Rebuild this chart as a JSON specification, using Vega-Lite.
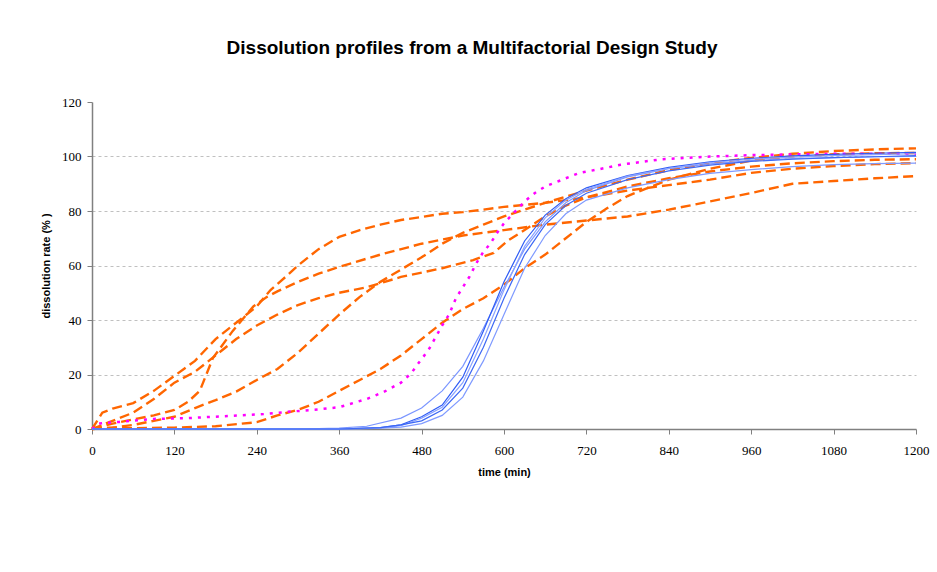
{
  "$schema": "https://vega.github.io/schema/vega-lite/v6.json",
  "width": 824,
  "height": 327,
  "autosize": "none",
  "padding": {"left": 92, "top": 102, "right": 21, "bottom": 143},
  "background": "white",
  "title": {"text": "Dissolution profiles from a Multifactorial Design Study", "font": "Liberation Sans", "fontSize": 19, "fontWeight": "bold", "color": "black", "anchor": "middle", "dx": -32, "offset": 38},
  "datasets": {
    "orange": [
      {"series":"O1","time":0,"rate":0},{"series":"O1","time":15,"rate":6},{"series":"O1","time":30,"rate":7.5},{"series":"O1","time":60,"rate":9.5},{"series":"O1","time":90,"rate":14},{"series":"O1","time":120,"rate":19.5},{"series":"O1","time":150,"rate":25},{"series":"O1","time":180,"rate":33},{"series":"O1","time":210,"rate":39},{"series":"O1","time":240,"rate":45},{"series":"O1","time":260,"rate":51},{"series":"O1","time":285,"rate":56.5},{"series":"O1","time":300,"rate":60},{"series":"O1","time":330,"rate":66},{"series":"O1","time":360,"rate":70.5},{"series":"O1","time":390,"rate":73},{"series":"O1","time":420,"rate":75},{"series":"O1","time":450,"rate":76.7},{"series":"O1","time":480,"rate":77.8},{"series":"O1","time":510,"rate":79},{"series":"O1","time":540,"rate":79.6},{"series":"O1","time":570,"rate":80.5},{"series":"O1","time":600,"rate":81.5},{"series":"O1","time":660,"rate":83},{"series":"O1","time":720,"rate":85},{"series":"O1","time":780,"rate":87.5},{"series":"O1","time":840,"rate":89.5},{"series":"O1","time":900,"rate":91.5},{"series":"O1","time":960,"rate":94},{"series":"O1","time":1020,"rate":95.5},{"series":"O1","time":1080,"rate":96.5},{"series":"O1","time":1140,"rate":97.2},{"series":"O1","time":1200,"rate":97.6},
      {"series":"O2","time":0,"rate":0},{"series":"O2","time":30,"rate":2},{"series":"O2","time":60,"rate":3.5},{"series":"O2","time":90,"rate":5},{"series":"O2","time":120,"rate":7},{"series":"O2","time":140,"rate":10},{"series":"O2","time":157,"rate":14},{"series":"O2","time":176,"rate":26},{"series":"O2","time":205,"rate":36},{"series":"O2","time":235,"rate":45},{"series":"O2","time":255,"rate":48.5},{"series":"O2","time":270,"rate":50.5},{"series":"O2","time":300,"rate":54},{"series":"O2","time":330,"rate":57},{"series":"O2","time":360,"rate":59.5},{"series":"O2","time":420,"rate":64},{"series":"O2","time":480,"rate":68},{"series":"O2","time":540,"rate":71},{"series":"O2","time":600,"rate":73},{"series":"O2","time":660,"rate":75},{"series":"O2","time":720,"rate":76.5},{"series":"O2","time":780,"rate":78},{"series":"O2","time":840,"rate":80.5},{"series":"O2","time":900,"rate":83.5},{"series":"O2","time":960,"rate":86.6},{"series":"O2","time":1020,"rate":90},{"series":"O2","time":1080,"rate":91},{"series":"O2","time":1140,"rate":92},{"series":"O2","time":1200,"rate":92.8},
      {"series":"O3","time":0,"rate":0},{"series":"O3","time":30,"rate":3},{"series":"O3","time":60,"rate":6},{"series":"O3","time":90,"rate":11},{"series":"O3","time":120,"rate":17},{"series":"O3","time":150,"rate":21},{"series":"O3","time":180,"rate":27},{"series":"O3","time":210,"rate":33},{"series":"O3","time":240,"rate":38},{"series":"O3","time":270,"rate":42},{"series":"O3","time":300,"rate":45.5},{"series":"O3","time":330,"rate":48},{"series":"O3","time":360,"rate":50},{"series":"O3","time":400,"rate":52},{"series":"O3","time":450,"rate":55.8},{"series":"O3","time":510,"rate":59},{"series":"O3","time":555,"rate":62},{"series":"O3","time":585,"rate":64.6},{"series":"O3","time":605,"rate":69},{"series":"O3","time":630,"rate":73},{"series":"O3","time":660,"rate":78},{"series":"O3","time":690,"rate":82},{"series":"O3","time":720,"rate":85},{"series":"O3","time":780,"rate":89},{"series":"O3","time":840,"rate":92},{"series":"O3","time":900,"rate":94.5},{"series":"O3","time":960,"rate":96.3},{"series":"O3","time":1020,"rate":97.5},{"series":"O3","time":1080,"rate":98.3},{"series":"O3","time":1140,"rate":98.8},{"series":"O3","time":1200,"rate":99},
      {"series":"O4","time":0,"rate":0},{"series":"O4","time":30,"rate":0.5},{"series":"O4","time":60,"rate":1.5},{"series":"O4","time":90,"rate":3},{"series":"O4","time":120,"rate":4.5},{"series":"O4","time":150,"rate":7.7},{"series":"O4","time":180,"rate":10.6},{"series":"O4","time":210,"rate":13.7},{"series":"O4","time":240,"rate":18},{"series":"O4","time":270,"rate":22},{"series":"O4","time":300,"rate":28},{"series":"O4","time":330,"rate":35},{"series":"O4","time":360,"rate":42},{"series":"O4","time":390,"rate":48.5},{"series":"O4","time":420,"rate":54},{"series":"O4","time":450,"rate":58.5},{"series":"O4","time":480,"rate":63},{"series":"O4","time":510,"rate":68},{"series":"O4","time":540,"rate":72},{"series":"O4","time":570,"rate":75},{"series":"O4","time":600,"rate":78},{"series":"O4","time":630,"rate":80.5},{"series":"O4","time":660,"rate":83},{"series":"O4","time":720,"rate":87.5},{"series":"O4","time":780,"rate":91.5},{"series":"O4","time":840,"rate":95},{"series":"O4","time":900,"rate":97.5},{"series":"O4","time":960,"rate":99.5},{"series":"O4","time":1020,"rate":101},{"series":"O4","time":1080,"rate":102},{"series":"O4","time":1140,"rate":102.6},{"series":"O4","time":1200,"rate":103},
      {"series":"O5","time":0,"rate":0},{"series":"O5","time":30,"rate":0.5},{"series":"O5","time":60,"rate":0.3},{"series":"O5","time":120,"rate":0.5},{"series":"O5","time":180,"rate":1},{"series":"O5","time":240,"rate":2.5},{"series":"O5","time":270,"rate":5},{"series":"O5","time":300,"rate":7},{"series":"O5","time":330,"rate":10},{"series":"O5","time":360,"rate":14},{"series":"O5","time":390,"rate":18},{"series":"O5","time":420,"rate":22},{"series":"O5","time":450,"rate":27},{"series":"O5","time":480,"rate":33},{"series":"O5","time":510,"rate":39},{"series":"O5","time":540,"rate":44},{"series":"O5","time":570,"rate":48},{"series":"O5","time":600,"rate":53},{"series":"O5","time":630,"rate":59},{"series":"O5","time":660,"rate":64},{"series":"O5","time":690,"rate":70},{"series":"O5","time":720,"rate":76},{"series":"O5","time":750,"rate":81},{"series":"O5","time":780,"rate":85.5},{"series":"O5","time":840,"rate":91.5},{"series":"O5","time":900,"rate":95.5},{"series":"O5","time":960,"rate":98.5},{"series":"O5","time":1020,"rate":100},{"series":"O5","time":1080,"rate":100.8},{"series":"O5","time":1140,"rate":101.2},{"series":"O5","time":1200,"rate":101.3}
    ],
    "pink": [
      {"series":"P1","time":0,"rate":0},{"series":"P1","time":10,"rate":2},{"series":"P1","time":40,"rate":2.6},{"series":"P1","time":90,"rate":3.7},{"series":"P1","time":140,"rate":4},{"series":"P1","time":200,"rate":4.8},{"series":"P1","time":250,"rate":5.5},{"series":"P1","time":290,"rate":6.4},{"series":"P1","time":330,"rate":7.2},{"series":"P1","time":360,"rate":8},{"series":"P1","time":400,"rate":11},{"series":"P1","time":425,"rate":13.6},{"series":"P1","time":450,"rate":17},{"series":"P1","time":465,"rate":20.5},{"series":"P1","time":475,"rate":24},{"series":"P1","time":490,"rate":29},{"series":"P1","time":500,"rate":33.5},{"series":"P1","time":510,"rate":38},{"series":"P1","time":520,"rate":42},{"series":"P1","time":530,"rate":48},{"series":"P1","time":540,"rate":52},{"series":"P1","time":550,"rate":56},{"series":"P1","time":560,"rate":61},{"series":"P1","time":570,"rate":65},{"series":"P1","time":580,"rate":68},{"series":"P1","time":590,"rate":72},{"series":"P1","time":600,"rate":75.5},{"series":"P1","time":615,"rate":79.5},{"series":"P1","time":630,"rate":83.5},{"series":"P1","time":645,"rate":86.6},{"series":"P1","time":660,"rate":89},{"series":"P1","time":680,"rate":91},{"series":"P1","time":710,"rate":94},{"series":"P1","time":740,"rate":95.4},{"series":"P1","time":770,"rate":97},{"series":"P1","time":800,"rate":98},{"series":"P1","time":830,"rate":99},{"series":"P1","time":900,"rate":100},{"series":"P1","time":960,"rate":100.5},{"series":"P1","time":1080,"rate":101},{"series":"P1","time":1200,"rate":101}
    ],
    "blue": [
      {"series":"B1","time":0,"rate":0},{"series":"B1","time":300,"rate":0},{"series":"B1","time":360,"rate":0.3},{"series":"B1","time":400,"rate":1},{"series":"B1","time":450,"rate":4},{"series":"B1","time":480,"rate":7.7},{"series":"B1","time":510,"rate":14},{"series":"B1","time":540,"rate":23},{"series":"B1","time":570,"rate":37},{"series":"B1","time":600,"rate":52},{"series":"B1","time":630,"rate":66},{"series":"B1","time":660,"rate":76},{"series":"B1","time":690,"rate":83},{"series":"B1","time":720,"rate":87.5},{"series":"B1","time":780,"rate":92.5},{"series":"B1","time":840,"rate":95.5},{"series":"B1","time":900,"rate":97.3},{"series":"B1","time":960,"rate":98.5},{"series":"B1","time":1020,"rate":99.2},{"series":"B1","time":1080,"rate":99.6},{"series":"B1","time":1140,"rate":99.9},{"series":"B1","time":1200,"rate":100},
      {"series":"B2","time":0,"rate":0},{"series":"B2","time":360,"rate":0},{"series":"B2","time":420,"rate":0.5},{"series":"B2","time":450,"rate":1.5},{"series":"B2","time":480,"rate":4.5},{"series":"B2","time":510,"rate":8.8},{"series":"B2","time":540,"rate":19},{"series":"B2","time":570,"rate":36},{"series":"B2","time":600,"rate":54},{"series":"B2","time":630,"rate":69},{"series":"B2","time":660,"rate":78.5},{"series":"B2","time":690,"rate":84.5},{"series":"B2","time":720,"rate":88.5},{"series":"B2","time":780,"rate":93},{"series":"B2","time":840,"rate":96},{"series":"B2","time":900,"rate":98},{"series":"B2","time":960,"rate":99.3},{"series":"B2","time":1020,"rate":100.2},{"series":"B2","time":1080,"rate":100.8},{"series":"B2","time":1140,"rate":101.2},{"series":"B2","time":1200,"rate":101.5},
      {"series":"B3","time":0,"rate":0},{"series":"B3","time":360,"rate":0},{"series":"B3","time":420,"rate":0.4},{"series":"B3","time":450,"rate":1.2},{"series":"B3","time":480,"rate":4},{"series":"B3","time":510,"rate":8},{"series":"B3","time":540,"rate":17},{"series":"B3","time":570,"rate":33},{"series":"B3","time":600,"rate":51},{"series":"B3","time":630,"rate":67},{"series":"B3","time":660,"rate":77.5},{"series":"B3","time":690,"rate":84},{"series":"B3","time":720,"rate":88},{"series":"B3","time":780,"rate":92.8},{"series":"B3","time":840,"rate":95.7},{"series":"B3","time":900,"rate":97.8},{"series":"B3","time":960,"rate":99},{"series":"B3","time":1020,"rate":99.8},{"series":"B3","time":1080,"rate":100.3},{"series":"B3","time":1140,"rate":100.7},{"series":"B3","time":1200,"rate":101},
      {"series":"B4","time":0,"rate":0},{"series":"B4","time":390,"rate":0},{"series":"B4","time":420,"rate":0.3},{"series":"B4","time":450,"rate":0.7},{"series":"B4","time":480,"rate":2},{"series":"B4","time":510,"rate":5},{"series":"B4","time":540,"rate":11.7},{"series":"B4","time":570,"rate":25},{"series":"B4","time":600,"rate":42},{"series":"B4","time":630,"rate":59},{"series":"B4","time":660,"rate":71},{"series":"B4","time":690,"rate":79},{"series":"B4","time":720,"rate":84},{"series":"B4","time":780,"rate":88.5},{"series":"B4","time":840,"rate":91.5},{"series":"B4","time":900,"rate":93.8},{"series":"B4","time":960,"rate":95.2},{"series":"B4","time":1020,"rate":96.3},{"series":"B4","time":1080,"rate":97},{"series":"B4","time":1140,"rate":97.4},{"series":"B4","time":1200,"rate":97.6},
      {"series":"B5","time":0,"rate":0},{"series":"B5","time":360,"rate":0},{"series":"B5","time":420,"rate":0.5},{"series":"B5","time":450,"rate":1.5},{"series":"B5","time":480,"rate":3},{"series":"B5","time":510,"rate":7},{"series":"B5","time":540,"rate":15},{"series":"B5","time":570,"rate":30},{"series":"B5","time":600,"rate":48},{"series":"B5","time":630,"rate":64},{"series":"B5","time":660,"rate":75},{"series":"B5","time":690,"rate":82},{"series":"B5","time":720,"rate":86.5},{"series":"B5","time":780,"rate":91.5},{"series":"B5","time":840,"rate":94.7},{"series":"B5","time":900,"rate":96.8},{"series":"B5","time":960,"rate":98.2},{"series":"B5","time":1020,"rate":99},{"series":"B5","time":1080,"rate":99.6},{"series":"B5","time":1140,"rate":99.9},{"series":"B5","time":1200,"rate":100.3}
    ]
  },
  "encoding": {
    "x": {"field": "time", "type": "quantitative", "scale": {"domain": [0, 1200], "nice": false, "zero": false},
      "axis": {"title": "time (min)", "values": [0,120,240,360,480,600,720,840,960,1080,1200], "format": "d", "grid": false,
        "titleFont": "Liberation Sans", "titleFontSize": 11, "titleFontWeight": "bold", "titleColor": "black", "titlePadding": 9,
        "labelFont": "Liberation Serif", "labelFontSize": 13, "labelColor": "black", "labelPadding": 10, "labelFlush": false,
        "domainColor": "#808080", "domainWidth": 1.5, "tickColor": "#808080", "tickSize": 5, "tickWidth": 1}},
    "y": {"field": "rate", "type": "quantitative", "scale": {"domain": [0, 120], "nice": false},
      "axis": {"title": "dissolution rate (% )", "values": [0,20,40,60,80,100,120], "format": "d", "grid": true,
        "gridColor": "#c0c0c0", "gridDash": [3,3], "gridWidth": 1,
        "gridOpacity": {"condition": {"test": "datum.value == 0 || datum.value == 120", "value": 0}, "value": 1},
        "titleFont": "Liberation Sans", "titleFontSize": 11, "titleFontWeight": "bold", "titleColor": "black", "titlePadding": 10,
        "labelFont": "Liberation Serif", "labelFontSize": 13, "labelColor": "black", "labelPadding": 6,
        "domainColor": "#808080", "domainWidth": 1.5, "tickColor": "#808080", "tickSize": 5, "tickWidth": 1}},
    "detail": {"field": "series", "type": "nominal"}
  },
  "layer": [
    {"data": {"name": "orange"}, "mark": {"type": "line", "color": "#FF6600", "strokeWidth": 2.4, "strokeDash": [10, 5], "clip": false}},
    {"data": {"name": "pink"}, "mark": {"type": "line", "color": "#FF00FF", "strokeWidth": 2.5, "strokeDash": [3, 6], "clip": false}},
    {"data": {"name": "blue"}, "mark": {"type": "line", "strokeWidth": 1.2, "clip": false},
      "encoding": {"color": {"field": "series", "type": "nominal", "legend": null,
        "scale": {"domain": ["B1","B2","B3","B4","B5"], "range": ["#7b96ff", "#2f5cf5", "#8aa2ff", "#7f9aff", "#3d68f5"]}}}}
  ],
  "config": {"view": {"stroke": null}}
}
